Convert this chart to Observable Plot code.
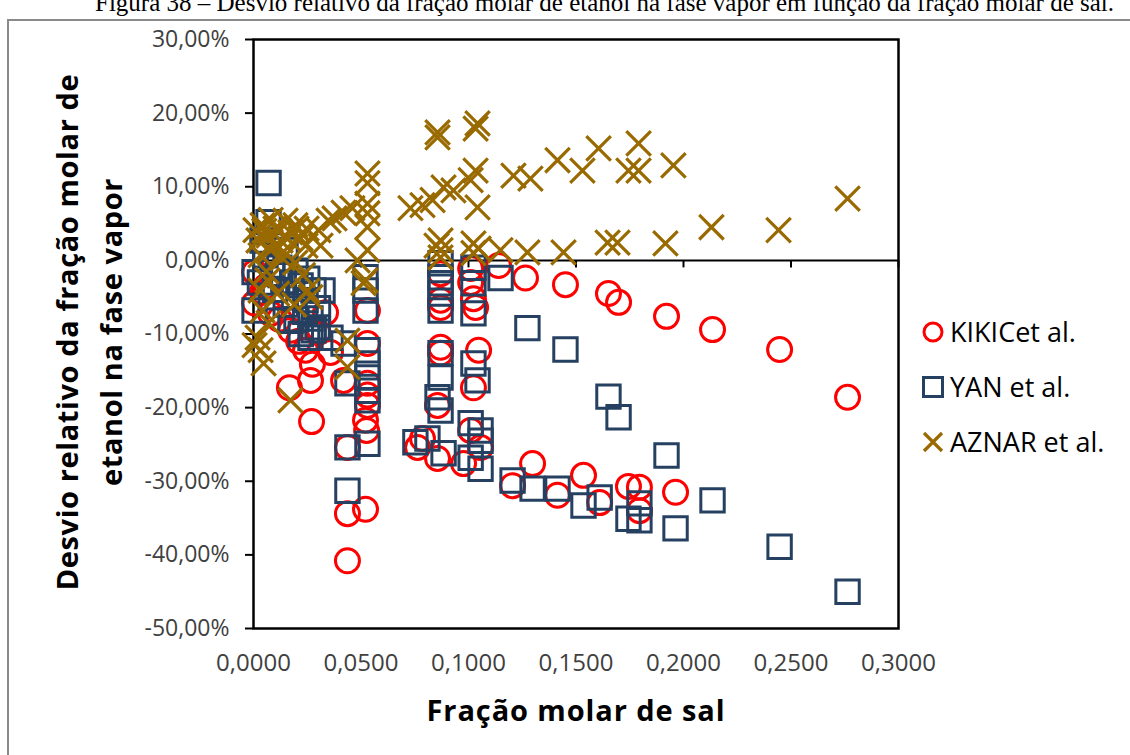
<!DOCTYPE html>
<html>
<head>
<meta charset="utf-8">
<script src="https://cdn.jsdelivr.net/npm/d3@7"></script>
<script src="https://cdn.jsdelivr.net/npm/@observablehq/plot@0.6"></script>
<style>
  html, body { margin: 0; padding: 0; background: #fff; }
  body { width: 1130px; height: 755px; overflow: hidden; position: relative; font-family: "Open Sans", sans-serif; }
  #caption { position: absolute; left: 95px; top: -10px; white-space: nowrap; font: 25px "Liberation Serif", serif; color: #000; line-height: 25px; }
  #border { position: absolute; left: 7px; top: 19px; width: 1300px; height: 900px; border: 2px solid #8a8a8a; box-sizing: border-box; }
  #chart { position: absolute; left: 0; top: 0; }
  #ytitle { position: absolute; left: 89px; top: 332px; width: 640px; transform: translate(-50%, -50%) rotate(-90deg); text-align: center; font-weight: 700; font-size: 29px; letter-spacing: 0.6px; line-height: 44px; color: #000; white-space: nowrap; }
  #xtitle { position: absolute; left: 576px; top: 690px; transform: translateX(-50%); font-weight: 700; font-size: 29px; letter-spacing: 0.9px; color: #000; white-space: nowrap; }
  #legend { position: absolute; left: 920px; top: 304px; }
  .item { display: flex; align-items: center; height: 55px; font-size: 27px; color: #000; }
  .item svg { margin-right: 4px; }
</style>
</head>
<body>
<div id="caption">Figura 38 – Desvio relativo da fração molar de etanol na fase vapor em função da fração molar de sal.</div>
<div id="border"></div>
<div id="chart"></div>
<div id="ytitle">Desvio relativo da fração molar de<br>etanol na fase vapor</div>
<div id="xtitle">Fração molar de sal</div>
<div id="legend"></div>
<script>
// ---- Data (x = fração molar de sal, y = desvio relativo em %) ----
const seriesNames = ["KIKICet al.", "YAN et al.", "AZNAR et al."];

const kikicX = [0.0005,0.0005,0.0042,0.0079,0.0172,0.0242,0.0274,0.0265,0.0167,0.0270,0.0335,0.0358,0.0419,0.0437,0.0437,0.0437,0.0521,0.0521,0.0526,0.0530,0.0530,0.0530,0.0530,0.0530,
  0.0870,0.0870,0.0870,0.0870,0.0870,0.0856,0.0856,0.0786,0.0763,0.0977,
  0.1010,0.1010,0.1023,0.1033,0.1047,0.1023,0.1010,0.1056,
  0.1140,0.1265,0.1451,0.1651,0.1698,0.1921,0.2135,0.2447,0.2763,
  0.1205,0.1298,0.1414,0.1535,0.1610,0.1744,0.1795,0.1795,0.1963,
  0.0060,0.0120,0.0210,0.0300];
const kikicY = [-1.6,-5.8,-4.3,-7.2,-9.5,-12.2,-14.1,-16.3,-17.3,-21.9,-7.1,-12.5,-16.3,-25.4,-34.4,-40.8,-33.8,-21.7,-23.1,-6.8,-11.3,-16.7,-18.3,-19.7,
  -1.8,-5.4,-6.4,-11.8,-12.6,-19.7,-26.9,-24.2,-25.4,-27.6,
  -1.1,-3.0,-5.2,-6.4,-12.2,-17.3,-23.1,-25.4,
  -0.7,-2.4,-3.3,-4.5,-5.7,-7.6,-9.4,-12.1,-18.6,
  -30.6,-27.6,-31.9,-29.2,-32.9,-30.7,-30.8,-34.0,-31.5,
  -3.5,-8.0,-11.0,-9.8];

const yanX = [0.0070,0.0070,0.0005,0.0005,0.0042,0.0056,0.0088,0.0126,0.0149,0.0195,0.0219,0.0242,0.0279,0.0265,0.0298,0.0265,0.0358,0.0419,0.0321,0.0172,
  0.0437,0.0437,0.0437,0.0521,0.0521,0.0521,0.0530,0.0530,0.0530,0.0530,0.0530,0.0530,
  0.0870,0.0870,0.0870,0.0870,0.0870,0.0870,0.0870,0.0856,0.0870,0.0809,0.0753,0.0884,
  0.1023,0.1023,0.1023,0.1023,0.1042,0.1010,0.1056,0.1056,0.1010,0.1056,
  0.1149,0.1274,0.1451,0.1651,0.1698,0.1921,0.2135,0.2447,0.2763,
  0.1205,0.1298,0.1414,0.1535,0.1610,0.1744,0.1795,0.1795,0.1963,
  0.0030,0.0100,0.0150,0.0200,0.0120,0.0180,0.0240,0.0280,0.0220,0.0080,0.0250,0.0300];
const yanY = [10.5,5.2,-1.6,-6.8,2.7,0.7,-0.7,-2.0,1.4,-1.4,-3.4,-5.4,-4.1,-7.9,-9.1,-10.5,-10.5,-11.3,-4.1,-8.2,
  -16.7,-25.4,-31.3,-2.3,-4.1,-6.8,-12.2,-14.0,-15.9,-17.7,-19.0,-24.9,
  -0.4,-2.3,-3.1,-4.5,-6.8,-12.6,-15.9,-18.6,-20.4,-24.2,-24.7,-26.2,
  -1.0,-3.1,-7.2,-14.0,-16.3,-22.1,-23.1,-24.5,-26.8,-28.3,
  -2.4,-9.2,-12.1,-18.5,-21.3,-26.5,-32.6,-38.9,-45.0,
  -29.9,-31.0,-31.0,-33.3,-32.2,-35.1,-33.0,-35.3,-36.4,
  -3.0,-4.0,-6.0,-8.0,-1.0,-3.0,-7.0,-9.5,-10.0,-5.0,-2.5,-6.5];

const aznarX = [0.0009,0.0023,0.0042,0.0070,0.0102,0.0126,0.0149,0.0172,0.0195,0.0219,0.0242,0.0033,0.0079,0.0135,0.0195,0.0247,0.0302,0.0349,0.0377,0.0419,0.0460,0.0312,0.0265,0.0251,
  0.0019,0.0033,0.0047,0.0005,0.0033,0.0065,0.0042,0.0172,0.0437,0.0437,0.0484,0.0512,
  0.0530,0.0530,0.0530,0.0530,0.0530,0.0530,0.0521,
  0.0730,0.0786,0.0833,0.0884,0.0930,0.1010,0.1033,0.1042,0.0856,0.0856,0.1033,0.1042,
  0.1209,0.1288,0.1414,0.1530,0.1605,0.1744,0.1791,0.1791,0.1953,0.2763,
  0.0870,0.0870,0.0870,0.0851,0.1023,0.1023,0.1047,0.1149,0.1274,0.1442,0.1647,0.1693,0.1916,0.2130,0.2442,
  0.0050,0.0080,0.0120,0.0160,0.0200,0.0140,0.0110,0.0190,0.0070,0.0230,0.0060,0.0100];
const aznarY = [4.1,2.7,4.8,3.4,4.3,2.7,5.4,3.8,4.8,3.0,2.0,0.7,1.4,0.3,-0.3,4.3,4.1,5.4,5.7,6.5,7.1,2.0,-5.0,-4.1,
  -10.5,-12.2,-14.0,-11.5,-4.1,-2.7,-6.8,-19.0,-10.9,-14.5,0.0,-3.1,
  11.8,10.5,7.7,6.4,4.5,1.4,-2.7,
  7.1,7.5,8.2,9.9,9.5,10.9,12.2,7.2,16.7,17.4,17.9,18.6,
  11.5,11.1,13.6,12.2,15.2,12.2,15.9,12.2,12.9,8.4,
  2.7,1.4,0.4,2.0,2.3,1.0,1.6,1.4,1.1,1.1,2.4,2.4,2.3,4.5,4.1,
  4.0,5.5,4.0,3.0,4.3,1.2,-4.5,-6.0,-8.5,-2.0,-1.5,2.0];

const xTicks = [0, 0.05, 0.10, 0.15, 0.20, 0.25, 0.30];
const yTicks = [-50, -40, -30, -20, -10, 0, 10, 20, 30];

const colors = ["#ff0000", "#254061", "#996a00"];

// ---- Build tables ----
const toRows = (xs, ys) => xs.map((x, i) => ({x, y: ys[i]}));
const kikic = toRows(kikicX, kikicY);
const yan = toRows(yanX, yanY);
const aznar = toRows(aznarX, aznarY);

// downward tick symbol for the x-axis ticks that sit on the 0 line
const tickDown = { draw(ctx) { ctx.moveTo(0, 0); ctx.lineTo(0, 7); } };

const fmtY = d => d.toFixed(2).replace(".", ",") + "%";
const fmtX = d => d.toFixed(4).replace(".", ",");

const chart = Plot.plot({
  width: 1130,
  height: 755,
  marginLeft: 253,
  marginRight: 232,
  marginTop: 39,
  marginBottom: 127,
  style: { fontFamily: "Open Sans", background: "transparent", overflow: "visible" },
  x: { domain: [0, 0.3] },
  y: { domain: [-50, 30] },
  marks: [
    Plot.axisY({ ticks: yTicks, tickFormat: fmtY, tickSize: 8, tickPadding: 16, fontSize: 23, fill: "#404040", stroke: "#000", strokeWidth: 2, label: null }),
    Plot.axisX({ ticks: xTicks, tickFormat: fmtX, tickSize: 0, tickPadding: 25, fontSize: 24, fill: "#404040", label: null }),
    Plot.ruleY([0], { stroke: "#000", strokeWidth: 2 }),
    Plot.dot(xTicks, { x: d => d, y: () => 0, symbol: tickDown, stroke: "#000", strokeWidth: 2 }),
    Plot.frame({ stroke: "#000", strokeWidth: 2.5 }),
    Plot.dot(kikic, { x: "x", y: "y", r: 12, symbol: "circle", stroke: colors[0], strokeWidth: 3, fill: "none" }),
    Plot.dot(yan, { x: "x", y: "y", r: 13.2, symbol: "square", stroke: colors[1], strokeWidth: 3, fill: "none" }),
    Plot.dot(aznar, { x: "x", y: "y", r: 11.2, symbol: "times", stroke: colors[2], strokeWidth: 3.2, fill: "none" })
  ]
});
document.getElementById("chart").appendChild(chart);

// ---- Legend ----
const symSvg = [
  `<svg width="26" height="26" viewBox="-13 -13 26 26"><circle r="9" fill="none" stroke="${colors[0]}" stroke-width="3"/></svg>`,
  `<svg width="26" height="26" viewBox="-13 -13 26 26"><rect x="-9.5" y="-9.5" width="19" height="19" fill="none" stroke="${colors[1]}" stroke-width="3"/></svg>`,
  `<svg width="26" height="26" viewBox="-13 -13 26 26"><path d="M-9,-9L9,9M-9,9L9,-9" fill="none" stroke="${colors[2]}" stroke-width="3.2"/></svg>`
];
document.getElementById("legend").innerHTML = seriesNames.map((n, i) =>
  `<div class="item">${symSvg[i]}<span>${n}</span></div>`).join("");
</script>
</body>
</html>
